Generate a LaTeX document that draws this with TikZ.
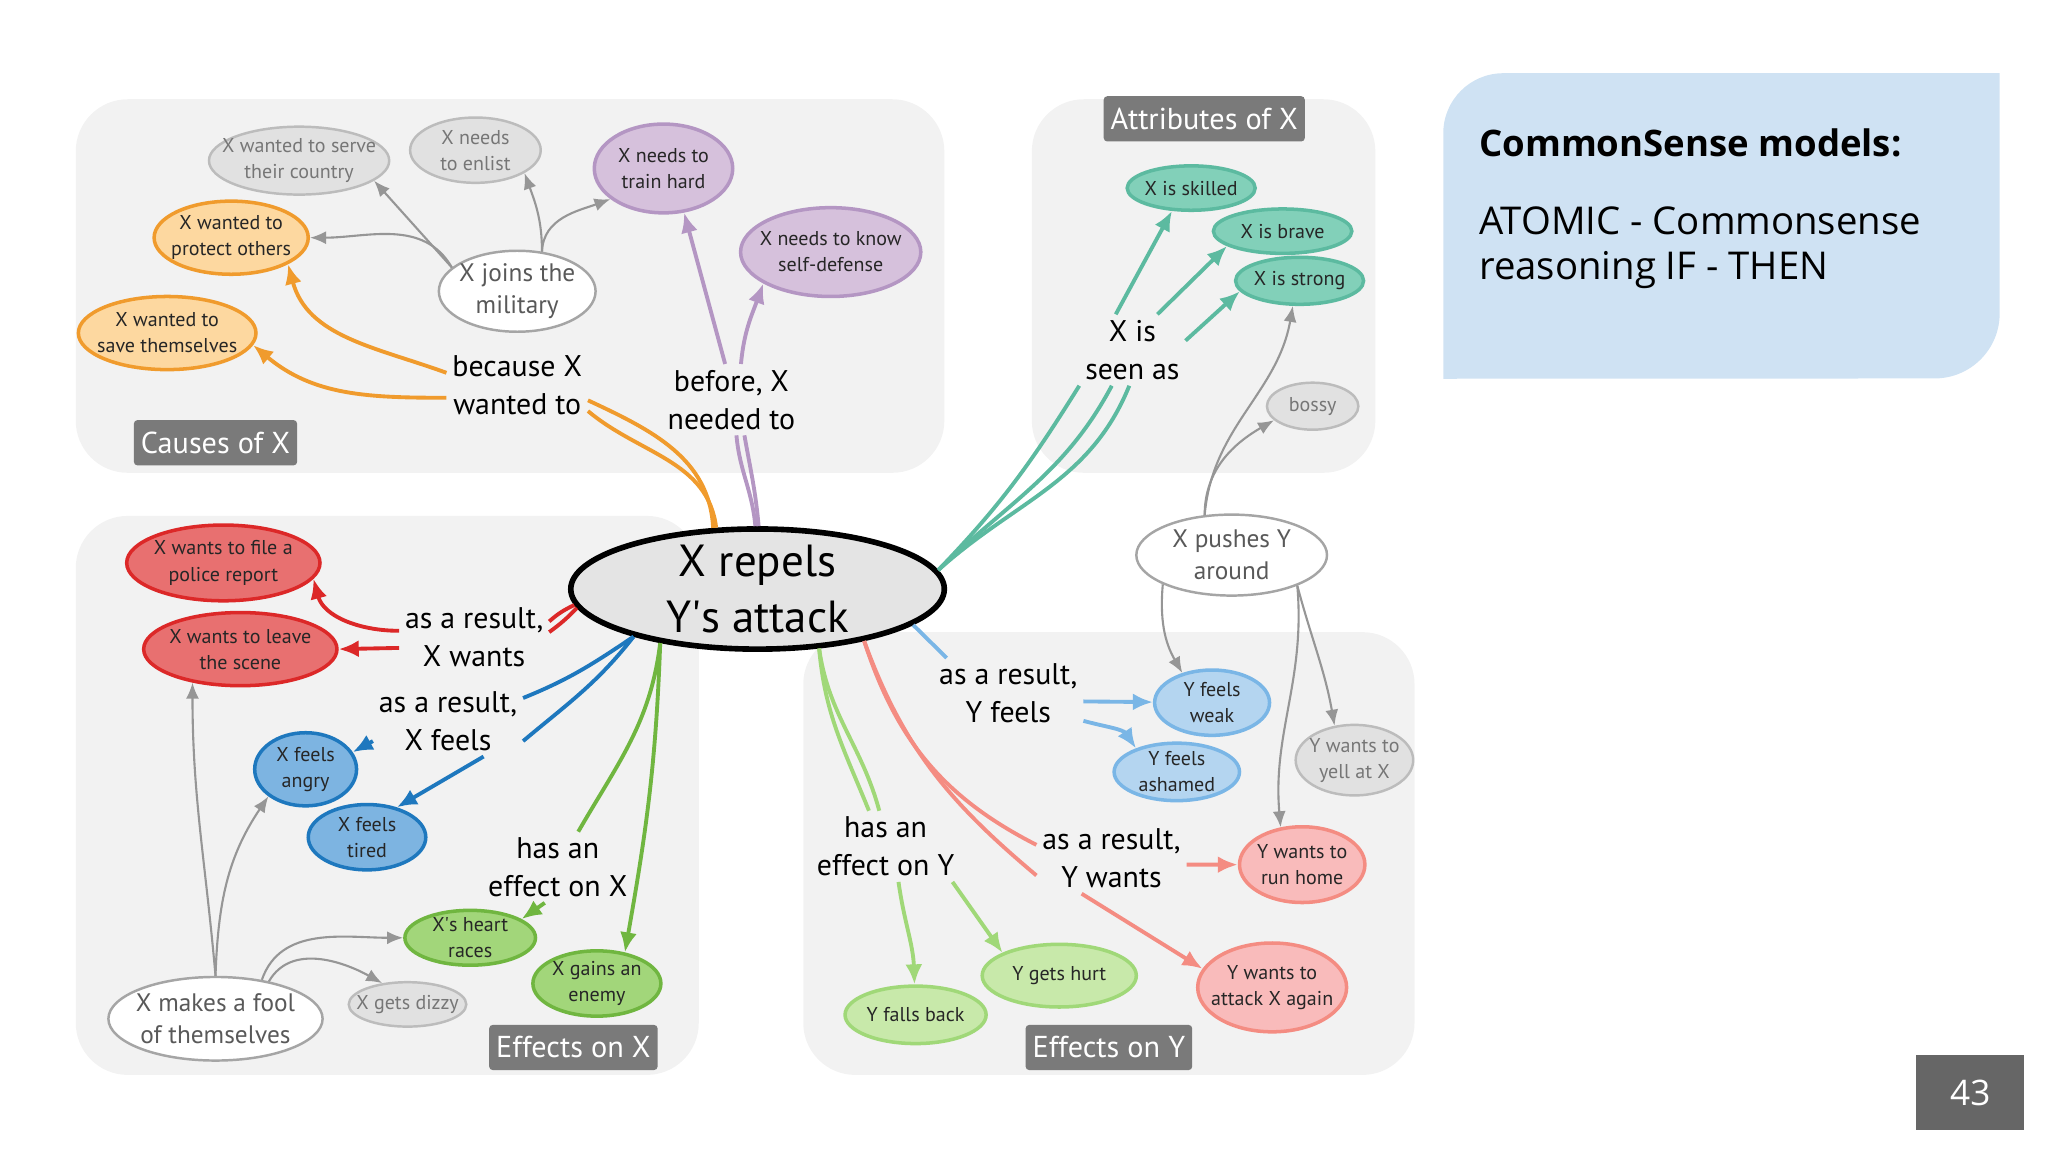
\documentclass[tikz,border=0pt]{standalone}
\usepackage{fontspec}
\setmainfont{PT Sans}
\newfontfamily\slidefont{Open Sans}
\usetikzlibrary{arrows.meta, shapes.geometric}
\definecolor{areabg}{RGB}{242,242,242}
\definecolor{tagbg}{RGB}{122,122,122}
\definecolor{slidebg}{RGB}{207,226,243}
\definecolor{pagebg}{RGB}{102,102,102}
\definecolor{hubbg}{RGB}{228,228,228}
\definecolor{lgry}{RGB}{150,150,150}
\definecolor{fgry}{RGB}{225,225,225}
\definecolor{dgry}{RGB}{188,188,188}
\definecolor{tgry}{RGB}{118,118,118}
\definecolor{wgry}{RGB}{165,165,165}
\definecolor{lor}{RGB}{240,155,45}
\definecolor{for}{RGB}{253,216,160}
\definecolor{lpu}{RGB}{180,150,195}
\definecolor{fpu}{RGB}{214,193,220}
\definecolor{lte}{RGB}{92,186,160}
\definecolor{fte}{RGB}{130,208,185}
\definecolor{lre}{RGB}{220,40,40}
\definecolor{fre}{RGB}{232,112,112}
\definecolor{lbl}{RGB}{30,120,190}
\definecolor{fbl}{RGB}{125,180,225}
\definecolor{lgr}{RGB}{112,182,64}
\definecolor{fgr}{RGB}{162,214,122}
\definecolor{llb}{RGB}{122,182,230}
\definecolor{flb}{RGB}{180,213,240}
\definecolor{lpk}{RGB}{244,140,130}
\definecolor{fpk}{RGB}{249,187,187}
\definecolor{llg}{RGB}{160,216,120}
\definecolor{flg}{RGB}{200,233,170}
\def\px{0.13061mm}
\tikzset{sz/.style 2 args={minimum width=2*#1*\px, minimum height=2*#2*\px}}
\tikzstyle{area}=[fill=areabg, rounded corners=5.2mm]
\tikzstyle{tag}=[fill=tagbg, text=white, rounded corners=1pt, inner xsep=2pt, minimum height=4.2mm, font=\fontsize{8.6}{10}\selectfont]
\tikzstyle{hub}=[ellipse, inner sep=0pt, draw=black, line width=1.6pt, fill=hubbg]
\tikzstyle{hubtxt}=[align=center, inner sep=0pt, font=\fontsize{12.8}{16}\selectfont]
\tikzstyle{rel}=[align=center, inner sep=1.5pt, font=\fontsize{8.5}{10.8}\selectfont]
\tikzstyle{txt}=[align=center, inner sep=0pt, text=black!85, font=\fontsize{5.7}{7.4}\selectfont]
\tikzstyle{txtg}=[txt, text=tgry]
\tikzstyle{txtw}=[txt, text=black!65]
\tikzstyle{bub}=[ellipse, inner sep=0pt, line width=1pt]
\tikzstyle{bor}=[bub, fill=for, draw=lor]
\tikzstyle{bpu}=[bub, fill=fpu, draw=lpu]
\tikzstyle{bte}=[bub, fill=fte, draw=lte]
\tikzstyle{bre}=[bub, fill=fre, draw=lre]
\tikzstyle{bbl}=[bub, fill=fbl, draw=lbl]
\tikzstyle{bgr}=[bub, fill=fgr, draw=lgr]
\tikzstyle{blb}=[bub, fill=flb, draw=llb]
\tikzstyle{bpk}=[bub, fill=fpk, draw=lpk]
\tikzstyle{blg}=[bub, fill=flg, draw=llg]
\tikzstyle{bgy}=[bub, fill=fgry, draw=dgry, line width=0.7pt]
\tikzstyle{bwh}=[bub, fill=white, draw=wgry, line width=0.7pt]
\tikzstyle{lnk}=[line width=1.1pt]
\tikzstyle{arr}=[-{Latex[length=2mm,width=1.7mm]}]
\tikzstyle{eor}=[lnk, lor]
\tikzstyle{epu}=[lnk, lpu]
\tikzstyle{ete}=[lnk, lte]
\tikzstyle{ere}=[lnk, lre]
\tikzstyle{ebl}=[lnk, lbl]
\tikzstyle{egr}=[lnk, lgr]
\tikzstyle{elb}=[lnk, llb]
\tikzstyle{epk}=[lnk, lpk]
\tikzstyle{elg}=[lnk, llg]
\tikzstyle{egy}=[lgry, line width=0.6pt, -{Latex[length=1.6mm,width=1.3mm]}]

\begin{document}
\begin{tikzpicture}[x=\px, y=\px]
\useasboundingbox (0,0) rectangle (1568,882);
% group areas
\fill[area] (58,520) rectangle (723,806);
\fill[area] (790,520) rectangle (1053,806);
\fill[area] (58,59) rectangle (535,487);
\fill[area] (615,59) rectangle (1083,398);
% slide text box
\fill[slidebg] (1105,592) -- (1105,780) arc[start angle=180, end angle=90, radius=6mm]
  -- (1531,826) -- (1531,642) arc[start angle=0, end angle=-90, radius=6.5mm] -- cycle;
\node[anchor=base west, inner sep=0pt, font=\slidefont\bfseries\fontsize{10.4}{12.5}\selectfont] (head) at (1132,762) {CommonSense models:};
\node[anchor=north west, inner sep=0pt, align=left, font=\slidefont\fontsize{10.9}{12.8}\selectfont] (body) at (1132,724) {ATOMIC - Commonsense\\reasoning IF - THEN};
\node[fill=pagebg, text=white, sz={41.5}{28.5}, font=\slidefont\fontsize{10}{12}\selectfont] (pgnum) at (1508.5,45.5) {43};

% group tags
\node[tag] (tcause) at (165,543) {Causes of X};
\node[tag] (tattr) at (922,791) {Attributes of X};
\node[tag] (teffx) at (439,80) {Effects on X};
\node[tag] (teffy) at (849,80) {Effects on Y};

% centre event
\node[hub, sz={143}{46}, label={[hubtxt]center:{X repels\\Y\textquotesingle s attack}}] (c) at (580,431) {};

% relation labels
\node[rel] (lbcause) at (396,587) {because X\\wanted to};
\node[rel] (lbbefore) at (560,576) {before, X\\needed to};
\node[rel] (lbseen) at (867,614) {X is\\seen as};
\node[rel] (lbxwants) at (363,394) {as a result,\\X wants};
\node[rel] (lbxfeels) at (343,330) {as a result,\\X feels};
\node[rel] (lbeffx) at (427,218) {has an\\effect on X};
\node[rel] (lbyfeels) at (772,351) {as a result,\\Y feels};
\node[rel] (lbeffy) at (678,234) {has an\\effect on Y};
\node[rel] (lbywants) at (851,225) {as a result,\\Y wants};

% causes of X
\node[bgy, sz={69}{26}, label={[txtg]center:{X wanted to serve\\their country}}] (serve) at (229,759) {};
\node[bgy, sz={50}{25}, label={[txtg]center:{X needs\\to enlist}}] (enlist) at (364,767) {};
\node[bpu, sz={53}{34}, label={[txt]center:{X needs to\\train hard}}] (train) at (508,753) {};
\node[bpu, sz={69}{34}, label={[txt]center:{X needs to know\\self-defense}}] (selfdef) at (636,689) {};
\node[bor, sz={59}{28}, label={[txt]center:{X wanted to\\protect others}}] (protect) at (177,700) {};
\node[bor, sz={68}{28}, label={[txt]center:{X wanted to\\save themselves}}] (save) at (128,627) {};
\node[bwh, sz={60}{31}, label={[txtw,font=\fontsize{7.2}{9}\selectfont]center:{X joins the\\military}}] (military) at (396,659) {};

% attributes of X
\node[bte, sz={49}{17}, label={[txt]center:{X is skilled}}] (skilled) at (912,738) {};
\node[bte, sz={53}{17}, label={[txt]center:{X is brave}}] (brave) at (982,705) {};
\node[bte, sz={49}{18}, label={[txt]center:{X is strong}}] (strong) at (995,667) {};
\node[bgy, sz={35}{18}, label={[txtg]center:{bossy}}] (bossy) at (1005,571) {};
\node[bwh, sz={73}{31}, label={[txtw,font=\fontsize{7.2}{9}\selectfont]center:{X pushes Y\\around}}] (pushes) at (943,457) {};

% effects on X
\node[bre, sz={74}{29}, label={[txt]center:{X wants to file a\\police report}}] (police) at (171,451) {};
\node[bre, sz={74}{28}, label={[txt]center:{X wants to leave\\the scene}}] (leave) at (184,385) {};
\node[bbl, sz={39}{28}, label={[txt]center:{X feels\\angry}}] (angry) at (234,293) {};
\node[bbl, sz={45}{25}, label={[txt]center:{X feels\\tired}}] (tired) at (281,241) {};
\node[bgr, sz={50}{21}, label={[txt]center:{X\textquotesingle s heart\\races}}] (heart) at (360,164) {};
\node[bgr, sz={49}{25}, label={[txt]center:{X gains an\\enemy}}] (enemy) at (457,129) {};
\node[bwh, sz={82}{32}, label={[txtw,font=\fontsize{7.2}{9}\selectfont]center:{X makes a fool\\of themselves}}] (fool) at (165,102) {};
\node[bgy, sz={45}{17}, label={[txtg]center:{X gets dizzy}}] (dizzy) at (312,113) {};

% effects on Y
\node[blb, sz={44}{25}, label={[txt]center:{Y feels\\weak}}] (weak) at (928,344) {};
\node[blb, sz={48}{22}, label={[txt]center:{Y feels\\ashamed}}] (ashamed) at (901,291) {};
\node[bgy, sz={45}{27}, label={[txtg]center:{Y wants to\\yell at X}}] (yell) at (1037,300) {};
\node[bpk, sz={48}{29}, label={[txt]center:{Y wants to\\run home}}] (runhome) at (997,220) {};
\node[bpk, sz={57}{34}, label={[txt]center:{Y wants to\\attack X again}}] (attackag) at (974,126) {};
\node[blg, sz={59}{24}, label={[txt]center:{Y gets hurt}}] (hurt) at (811,135) {};
\node[blg, sz={54}{22}, label={[txt]center:{Y falls back}}] (falls) at (701,105) {};

% causes
\draw[eor] (c.126) to[out=93,in=-25] (lbcause.-12);
\draw[eor] (c.124) to[out=97,in=-40] (lbcause.-20);
\draw[eor,arr] (lbcause.170) to[out=160,in=-75] (protect.-25);
\draw[eor,arr] (lbcause.190) to[out=180,in=-40] (save.-8);
\draw[epu] (c.92) to[out=95,in=-85] (lbbefore.-82);
\draw[epu] (c.89) to[out=95,in=-80] (lbbefore.-70);
\draw[epu,arr] (lbbefore.100) -- (train.-65);
\draw[epu,arr] (lbbefore.75) to[out=85,in=-110] (selfdef.205);
\draw[egy] (military.160) to[out=120,in=0] (protect.east);
\draw[egy] (military.160) -- (serve.-15);
\draw[egy] (military.58) to[out=90,in=-70] (enlist.-25);
\draw[egy] (military.58) to[out=88,in=200] (train.210);

% attributes
\draw[ete] (c.6) to[out=46,in=-122] (lbseen.south west);
\draw[ete] (c.6) to[out=44,in=-118] (lbseen.-120);
\draw[ete] (c.6) to[out=42,in=-112] (lbseen.-95);
\draw[ete,arr] (lbseen.115) -- (skilled.230);
\draw[ete,arr] (lbseen.55) -- (brave.195);
\draw[ete,arr] (lbseen.10) -- (strong.190);
\draw[egy] (pushes.124) to[out=90,in=210] (bossy.200);
\draw[egy] (pushes.124) to[out=85,in=-100] (strong.-105);
\draw[egy] (pushes.203) to[out=-95,in=120] (weak.135);
\draw[egy] (pushes.-25) to[out=-75,in=100] (yell.120);
\draw[egy] (pushes.-25) to[out=-85,in=95] (runhome.120);

% effects on X
\draw[ere] (c.185) to[bend right=8] (lbxwants.12);
\draw[ere] (c.186) to[bend left=5] (lbxwants.4);
\draw[ere,arr] (lbxwants.175) to[out=180,in=-75] (police.-10);
\draw[ere,arr] (lbxwants.188) -- (leave.east);
\draw[ebl] (c.201) to[out=-146,in=22] (lbxfeels.17);
\draw[ebl] (c.201) to[out=-128,in=40] (lbxfeels.-15);
\draw[ebl,arr] (lbxfeels.195) -- (angry.20);
\draw[ebl,arr] (lbxfeels.-45) -- (tired.45);
\draw[egr] (c.209) to[out=-97,in=60] (lbeffx.60);
\draw[egr,arr] (c.209) to[out=-92,in=80] (enemy.48);
\draw[egr,arr] (lbeffx.-110) -- (heart.20);
\draw[egy] (fool.north) to[out=95,in=-90] (leave.-145);
\draw[egy] (fool.north) to[out=88,in=-124] (angry.south west);
\draw[egy] (fool.40) to[out=71,in=180] (heart.west);
\draw[egy] (fool.35) to[out=60,in=151] (dizzy.140);

% effects on Y
\draw[elb] (c.-13) -- (lbyfeels.150);
\draw[elb,arr] (lbyfeels.-6) -- (weak);
\draw[elb,arr] (lbyfeels.-20) to[out=-15,in=124] (ashamed.150);
\draw[epk] (c.-26) to[out=-72,in=153] (lbywants.170);
\draw[epk] (c.-26) to[out=-70,in=140] (lbywants.193);
\draw[epk,arr] (lbywants.-5) -- (runhome);
\draw[epk,arr] (lbywants.-130) -- (attackag.165);
\draw[elg] (c.-44) to[out=-85,in=112] (lbeffy.115);
\draw[elg] (c.-44) to[out=-82,in=105] (lbeffy.100);
\draw[elg,arr] (lbeffy.-70) to[out=-82,in=92] (falls);
\draw[elg,arr] (lbeffy.-28) -- (hurt.158);
\end{tikzpicture}
\end{document}
